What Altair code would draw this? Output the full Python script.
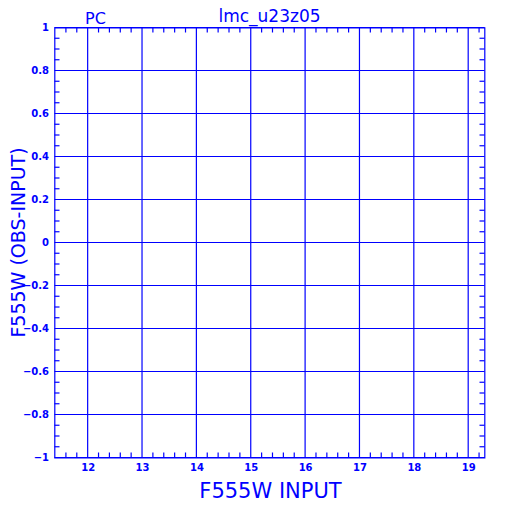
import altair as alt
import pandas as pd

BLUE = "#0000ff"
FONT = "DejaVu Sans"

x_major = [12, 13, 14, 15, 16, 17, 18, 19]
y_major = [-1.0, -0.8, -0.6, -0.4, -0.2, 0.0, 0.2, 0.4, 0.6, 0.8, 1.0]
x_minor = [11.6, 11.8] + [m + f for m in range(12, 19) for f in (0.2, 0.4, 0.6, 0.8)] + [19.2]
y_minor = [round(-1 + 0.05 * i, 2) for i in range(41) if i % 4 != 0]

x_domain = [11.39, 19.3]
y_domain = [-1, 1]

title_text = "lmc_u23z05"
corner_text = "PC"
x_title = "F555W INPUT"
y_title = "F555W (OBS-INPUT)"

W, H = 430, 430

xs = alt.Scale(domain=x_domain, nice=False, zero=False)
ys = alt.Scale(domain=y_domain, nice=False, zero=False)

dxM = pd.DataFrame({"v": x_major})
dyM = pd.DataFrame({"v": y_major})
dxm = pd.DataFrame({"v": x_minor})
dym = pd.DataFrame({"v": y_minor})

x_axis = alt.Axis(values=x_major, grid=False, ticks=False, domain=False, title=None,
                  labelFont=FONT, labelFontWeight="bold", labelFontSize=10,
                  labelColor=BLUE, labelPadding=5, labelFlush=False)
y_axis = alt.Axis(values=y_major, grid=False, ticks=False, domain=False, title=None,
                  labelFont=FONT, labelFontWeight="bold", labelFontSize=10,
                  labelColor=BLUE, labelPadding=6, format="~g", labelFlush=False)

rule = dict(color=BLUE, strokeWidth=1.2)

vgrid = alt.Chart(dxM).mark_rule(**rule).encode(x=alt.X("v:Q", scale=xs, axis=x_axis))
hgrid = alt.Chart(dyM).mark_rule(**rule).encode(y=alt.Y("v:Q", scale=ys, axis=y_axis))

xt_top = alt.Chart(dxm).mark_rule(**rule).encode(
    x=alt.X("v:Q", scale=xs), y=alt.value(0), y2=alt.value(5))
xt_bot = alt.Chart(dxm).mark_rule(**rule).encode(
    x=alt.X("v:Q", scale=xs), y=alt.value(H), y2=alt.value(H - 5))
yt_left = alt.Chart(dym).mark_rule(**rule).encode(
    y=alt.Y("v:Q", scale=ys), x=alt.value(0), x2=alt.value(5))
yt_right = alt.Chart(dym).mark_rule(**rule).encode(
    y=alt.Y("v:Q", scale=ys), x=alt.value(W), x2=alt.value(W - 5))

txt = pd.DataFrame({"t": [0]})
def label(text, x, y, size, angle=0):
    kw = dict(text=text, font=FONT, fontSize=size, color=BLUE, align="center",
              baseline="alphabetic")
    if angle:
        kw["angle"] = angle
    return alt.Chart(txt).mark_text(**kw).encode(x=alt.value(x), y=alt.value(y))

t_main = label(title_text, 215, -6, 17)
t_pc = label(corner_text, 41, -4, 16)
t_x = label(x_title, 216, 470, 21)
t_y = label(y_title, -30, 215, 19, angle=270)

chart = alt.layer(vgrid, hgrid, xt_top, xt_bot, yt_left, yt_right,
                  t_main, t_pc, t_x, t_y).properties(
    width=W, height=H,
    autosize=alt.AutoSizeParams(type="none"),
    padding={"left": 46.5, "top": 19.5, "right": 19.5, "bottom": 46.5},
    background="white",
).configure_view(stroke=BLUE, strokeWidth=1.2)

chart.save("out.html", embed_options={"renderer": "svg", "actions": False})
